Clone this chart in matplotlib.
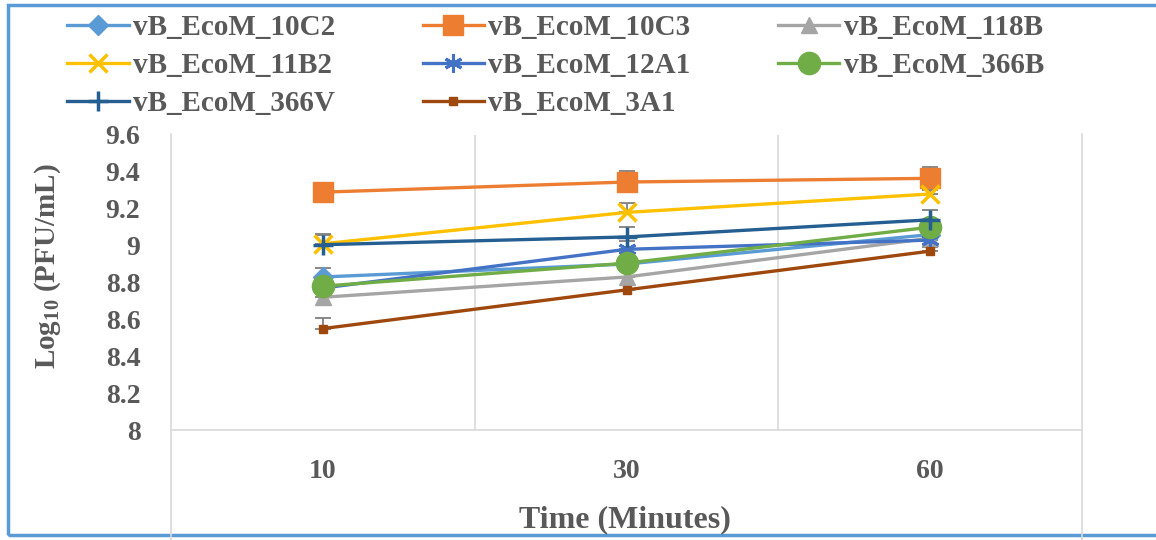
import numpy as np
import matplotlib
matplotlib.use("Agg")
import matplotlib.pyplot as plt
from matplotlib.lines import Line2D
from matplotlib.patches import Rectangle

plt.rcParams['font.family'] = ['Liberation Serif', 'DejaVu Serif']
plt.rcParams['mathtext.fontset'] = 'custom'
plt.rcParams['mathtext.rm'] = 'Liberation Serif'

# data
times = ["10", "30", "60"]
series_names = ["vB_EcoM_10C2", "vB_EcoM_10C3", "vB_EcoM_118B",
                "vB_EcoM_11B2", "vB_EcoM_12A1", "vB_EcoM_366B",
                "vB_EcoM_366V", "vB_EcoM_3A1"]
vals_10C2 = [8.83, 8.90, 9.06]
vals_10C3 = [9.29, 9.345, 9.365]
vals_118B = [8.72, 8.83, 9.04]
vals_11B2 = [9.01, 9.18, 9.28]
vals_12A1 = [8.77, 8.98, 9.03]
vals_366B = [8.78, 8.905, 9.10]
vals_366V = [9.005, 9.047, 9.14]
vals_3A1 = [8.55, 8.76, 8.97]

err_10C2 = [0.05, 0.03, 0.03]
err_10C3 = [0.05, 0.06, 0.06]
err_118B = [0.03, 0.03, 0.03]
err_11B2 = [0.055, 0.05, 0.02]
err_12A1 = [0.03, 0.045, 0.03]
err_366B = [0.03, 0.03, 0.03]
err_366V = [0.05, 0.055, 0.055]
err_3A1 = [0.06, 0.07, 0.02]

ytick_vals = [8, 8.2, 8.4, 8.6, 8.8, 9, 9.2, 9.4, 9.6]
ytick_labels = ["8", "8.2", "8.4", "8.6", "8.8", "9", "9.2", "9.4", "9.6"]

all_vals = [vals_10C2, vals_10C3, vals_118B, vals_11B2,
            vals_12A1, vals_366B, vals_366V, vals_3A1]
all_errs = [err_10C2, err_10C3, err_118B, err_11B2,
            err_12A1, err_366B, err_366V, err_3A1]

# Excel-like styles: color, marker, size, edge width
styles = [
    ("#5B9BD5", "D", 10, 1),
    ("#ED7D31", "s", 15, 1),
    ("#A5A5A5", "^", 11, 1),
    ("#FFC000", "x", 13, 2.5),
    ("#4472C4", (6, 2, 0), 13, 2.2),
    ("#70AD47", "o", 16, 1),
    ("#255E91", "+", 14, 2.5),
    ("#9E480E", "s", 6, 1),
]

text_gray = "#595959"
grid_gray = "#d9d9d9"

fig = plt.figure(figsize=(11.56, 5.4), dpi=100)
W, H = 1156, 540
ax = fig.add_axes([171 / W, 1 - 430 / H, (1082 - 171) / W, (430 - 135) / H])

x = np.arange(len(times))
handles = []
for name, v, e, (c, m, ms, mew) in zip(series_names, all_vals, all_errs, styles):
    ax.errorbar(x, v, yerr=[np.zeros(len(e)), e], fmt='none', ecolor="#7f7f7f",
                elinewidth=1.3, capsize=6, capthick=1.3, zorder=2)
    h, = ax.plot(x, v, color=c, lw=2.4, marker=m, markersize=ms,
                 markeredgewidth=mew, markeredgecolor=c, markerfacecolor=c,
                 label=name, zorder=3)
    handles.append(h)

ax.set_xlim(-0.5, 2.5)
ax.set_ylim(8, 9.6)
ax.set_xticks(x)
ax.set_xticklabels(times)
ax.set_yticks(ytick_vals)
ax.set_yticklabels(ytick_labels)
ax.tick_params(axis='both', length=0, colors=text_gray, labelsize=20)
ax.tick_params(axis='y', pad=22)
ax.tick_params(axis='x', pad=21)
for lab in ax.get_xticklabels() + ax.get_yticklabels():
    lab.set_fontweight('bold')

for s in ['top', 'left', 'right']:
    ax.spines[s].set_visible(False)
ax.spines['bottom'].set_color(grid_gray)
ax.spines['bottom'].set_linewidth(1.2)
for xb in [0.5, 1.5]:
    ax.axvline(xb, color=grid_gray, lw=1.2, zorder=1)

# outer frame lines running down past the axis, as in the reference
for xf in [171, 1082]:
    fig.add_artist(Line2D([xf / W, xf / W], [0, 1 - 134 / H],
                          color=grid_gray, lw=1.2))

fig.text(48 / W, 1 - 266 / H, r"Log$_{\mathregular{10}}$ (PFU/mL)",
         fontsize=21, fontweight='bold', color=text_gray, rotation=90,
         ha='center', va='center')
fig.text(625 / W, 1 - 520 / H, "Time (Minutes)", fontsize=23,
         fontweight='bold', color=text_gray, ha='center', va='center')

# legend is filled column by column, so reorder to get the row order
order = [0, 3, 6, 1, 4, 7, 2, 5]
leg = fig.legend(handles=[handles[i] for i in order], loc='upper left',
                 ncol=3, bbox_to_anchor=(47 / W, 1 + 6 / H),
                 frameon=False, fontsize=21, handlelength=2.1,
                 handletextpad=0.15, labelspacing=0.37, borderpad=0.2,
                 columnspacing=3.0, numpoints=1)
for t in leg.get_texts():
    t.set_color(text_gray)
    t.set_fontweight('bold')

# blue chart-area border
fig.add_artist(Rectangle((8 / W, 5 / H), 1.1, 1 - 10 / H, fill=False,
                         edgecolor="#5B9BD5", lw=2.5,
                         transform=fig.transFigure))

fig.savefig("out.png", dpi=100)
